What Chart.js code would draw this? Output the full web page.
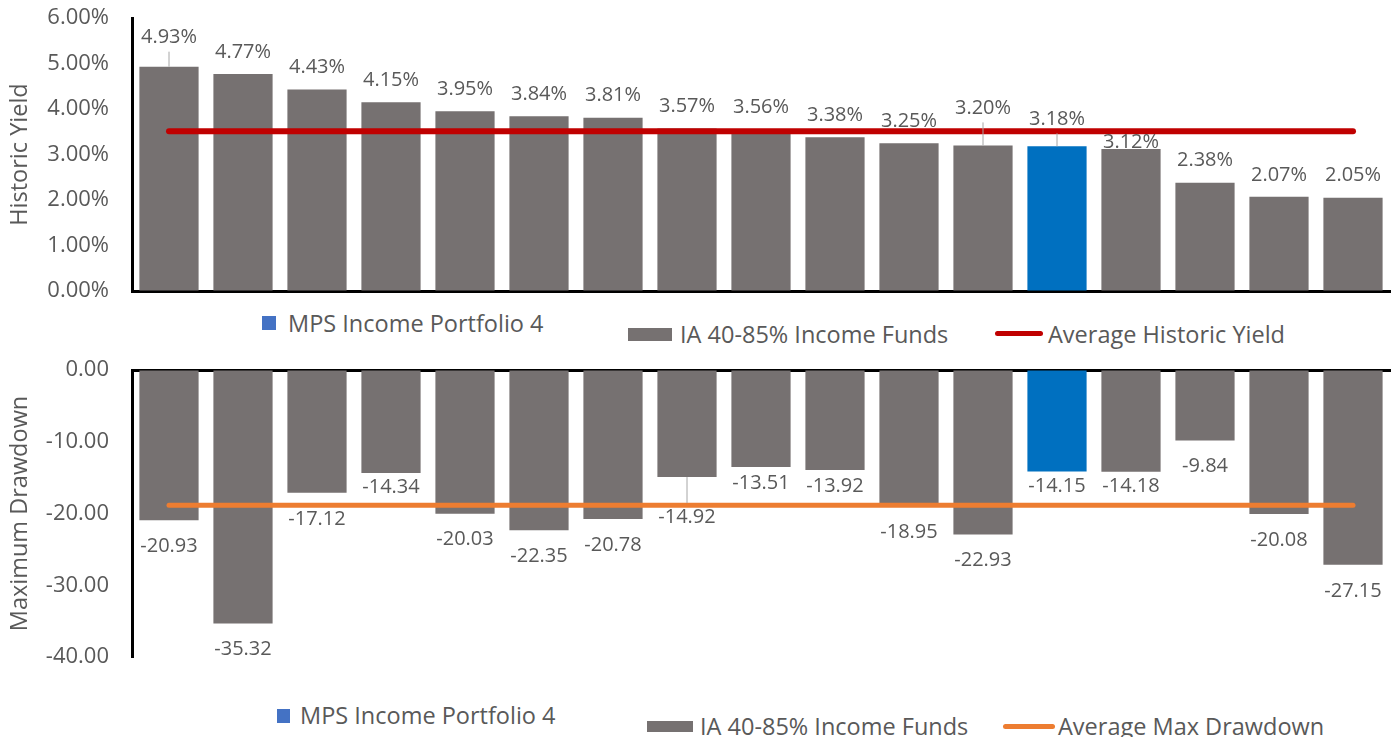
<!DOCTYPE html>
<html lang="en">
<head>
  <meta charset="UTF-8">
  <title>Historic Yield and Maximum Drawdown</title>
  <script src="https://cdn.jsdelivr.net/npm/chart.js"></script>
  <style>
    * {
      box-sizing: border-box;
      margin: 0;
      padding: 0;
    }

    body {
      background: #fff;
      font-family: 'Open Sans', sans-serif;
    }

    .wrap {
      position: relative;
      width: 1392px;
      height: 737px;
      overflow: hidden;
    }

    canvas {
      position: absolute;
      left: 0;
    }

    .key {
      position: absolute;
    }

    .label {
      position: absolute;
      font-size: 23.5px;
      line-height: 24px;
      color: #595959;
      white-space: nowrap;
      transform: translateY(-50%);
    }
  </style>
</head>
<body>
  <div class="wrap">
    <canvas id="yieldChart" width="1392" height="305" style="top:0"></canvas>
    <canvas id="drawdownChart" width="1392" height="330" style="top:350px"></canvas>

    <!-- legend, top panel -->
    <div class="key" style="left:262px;top:316px;width:14px;height:14px;background:#4472C4"></div>
    <div class="label" style="left:288px;top:323px">MPS Income Portfolio 4</div>
    <div class="key" style="left:628px;top:328px;width:44px;height:13px;background:#767171"></div>
    <div class="label" style="left:680px;top:334px">IA 40-85% Income Funds</div>
    <div class="key" style="left:995px;top:331px;width:48px;height:5px;border-radius:3px;background:#C00000"></div>
    <div class="label" style="left:1048px;top:334px">Average Historic Yield</div>

    <!-- legend, bottom panel -->
    <div class="key" style="left:277px;top:709px;width:13px;height:14px;background:#4472C4"></div>
    <div class="label" style="left:300px;top:715px">MPS Income Portfolio 4</div>
    <div class="key" style="left:647px;top:721px;width:46px;height:11px;background:#767171"></div>
    <div class="label" style="left:700px;top:726px">IA 40-85% Income Funds</div>
    <div class="key" style="left:1003px;top:724px;width:52px;height:5px;border-radius:3px;background:#ED7D31"></div>
    <div class="label" style="left:1058px;top:726px">Average Max Drawdown</div>
  </div>

  <script>
    // one bar per fund, sorted by yield; index 12 is the MPS portfolio
    const funds = ['Fund 1', 'Fund 2', 'Fund 3', 'Fund 4', 'Fund 5', 'Fund 6', 'Fund 7', 'Fund 8', 'Fund 9',
      'Fund 10', 'Fund 11', 'Fund 12', 'MPS Income Portfolio 4', 'Fund 14', 'Fund 15', 'Fund 16', 'Fund 17'];

    const yieldFunds = [4.93, 4.77, 4.43, 4.15, 3.95, 3.84, 3.81, 3.57, 3.56, 3.38, 3.25, 3.20, null, 3.12, 2.38, 2.07, 2.05];
    const yieldMps = [null, null, null, null, null, null, null, null, null, null, null, null, 3.18, null, null, null, null];
    const yieldAvg = [3.51, 3.51, 3.51, 3.51, 3.51, 3.51, 3.51, 3.51, 3.51, 3.51, 3.51, 3.51, 3.51, 3.51, 3.51, 3.51, 3.51];

    const drawdownFunds = [-20.93, -35.32, -17.12, -14.34, -20.03, -22.35, -20.78, -14.92, -13.51, -13.92, -18.95, -22.93, null, -14.18, -9.84, -20.08, -27.15];
    const drawdownMps = [null, null, null, null, null, null, null, null, null, null, null, null, -14.15, null, null, null, null];
    const drawdownAvg = [-18.85, -18.85, -18.85, -18.85, -18.85, -18.85, -18.85, -18.85, -18.85, -18.85, -18.85, -18.85, -18.85, -18.85, -18.85, -18.85, -18.85];

    const yieldTicks = [0, 1, 2, 3, 4, 5, 6];
    const drawdownTicks = [-40, -30, -20, -10, 0];

    const GREY = '#767171';
    const BLUE = '#0070C0';
    const TEXT = '#595959';
    const FONT = "'Open Sans', sans-serif";

    // value labels at the end of each bar, some nudged with a leader line like the original
    const valueLabels = {
      id: 'valueLabels',
      afterDatasetsDraw(chart, args, opts) {
        const ctx = chart.ctx;
        ctx.save();
        ctx.font = '20px ' + FONT;
        ctx.fillStyle = TEXT;
        ctx.textAlign = 'center';
        ctx.textBaseline = 'middle';
        chart.data.datasets.forEach((ds, di) => {
          if (ds.type === 'line') return;
          const meta = chart.getDatasetMeta(di);
          meta.data.forEach((bar, i) => {
            const v = ds.data[i];
            if (v == null) return;
            const y = bar.y + opts.gap + (opts.shifts[i] || 0);
            if (opts.leaders.includes(i)) {
              const dir = opts.gap < 0 ? 1 : -1;
              ctx.strokeStyle = '#a6a6a6';
              ctx.lineWidth = 1;
              ctx.beginPath();
              ctx.moveTo(bar.x, bar.y);
              ctx.lineTo(bar.x, y + dir * 14);
              ctx.stroke();
            }
            ctx.fillText(opts.format(v), bar.x, y);
          });
        });
        ctx.restore();
      }
    };

    function makeChart(id, cfg) {
      return new Chart(document.getElementById(id), {
        type: 'bar',
        data: {
          labels: funds,
          datasets: [
            { label: 'Average', type: 'line', data: cfg.avg, borderColor: cfg.lineColor,
              borderWidth: cfg.lineWidth, borderCapStyle: 'round', pointRadius: 0, order: 0 },
            { label: 'MPS Income Portfolio 4', data: cfg.mps, backgroundColor: BLUE, order: 1 },
            { label: 'IA 40-85% Income Funds', data: cfg.funds, backgroundColor: GREY, order: 2 }
          ]
        },
        options: {
          responsive: false,
          animation: false,
          layout: { padding: cfg.padding },
          datasets: {
            bar: { grouped: false, barPercentage: 0.8, categoryPercentage: 1.0 }
          },
          plugins: {
            legend: { display: false },
            tooltip: { enabled: false },
            valueLabels: cfg.labels
          },
          scales: {
            x: {
              position: cfg.xPos,
              ticks: { display: false },
              grid: { display: false, drawTicks: false },
              border: { display: true, color: '#000', width: 3 },
              afterFit: s => { s.height = cfg.xHeight; }
            },
            y: {
              min: cfg.ticks[0],
              max: cfg.ticks[cfg.ticks.length - 1],
              afterBuildTicks: s => { s.ticks = cfg.ticks.map(v => ({ value: v })); },
              ticks: {
                padding: 0,
                color: TEXT,
                font: { family: FONT, size: 22 },
                callback: cfg.tickFormat
              },
              // invisible tick marks keep the labels clear of the axis line
              grid: { display: true, drawOnChartArea: false, drawTicks: true, tickLength: 23, tickColor: 'rgba(0,0,0,0)', color: 'rgba(0,0,0,0)' },
              border: { display: true, color: '#000', width: 3 },
              title: {
                display: true,
                text: cfg.title,
                color: TEXT,
                font: { family: FONT, size: 23.5 },
                padding: { top: 6, bottom: 0 }
              },
              afterFit: s => { s.width = 132; }
            }
          }
        },
        plugins: [valueLabels]
      });
    }

    makeChart('yieldChart', {
      funds: yieldFunds,
      mps: yieldMps,
      avg: yieldAvg,
      ticks: yieldTicks,
      lineColor: '#C00000',
      lineWidth: 6,
      title: 'Historic Yield',
      xPos: 'bottom',
      xHeight: 14,
      padding: { top: 18, right: 2, bottom: 0, left: 0 },
      tickFormat: v => v.toFixed(2) + '%',
      labels: {
        gap: -22,
        shifts: { 0: -7, 11: -15, 12: -5, 13: 15 },
        leaders: [0, 11, 12],
        format: v => v.toFixed(2) + '%'
      }
    });

    makeChart('drawdownChart', {
      funds: drawdownFunds,
      mps: drawdownMps,
      avg: drawdownAvg,
      ticks: drawdownTicks,
      lineColor: '#ED7D31',
      lineWidth: 5,
      title: 'Maximum Drawdown',
      xPos: 'top',
      xHeight: 3,
      padding: { top: 17, right: 2, bottom: 23, left: 0 },
      tickFormat: v => v.toFixed(2),
      labels: {
        gap: 26,
        shifts: { 3: -12, 7: 14, 8: -10, 9: -10, 12: -11, 13: -11 },
        leaders: [7],
        format: v => v.toFixed(2)
      }
    });
  </script>
</body>
</html>
